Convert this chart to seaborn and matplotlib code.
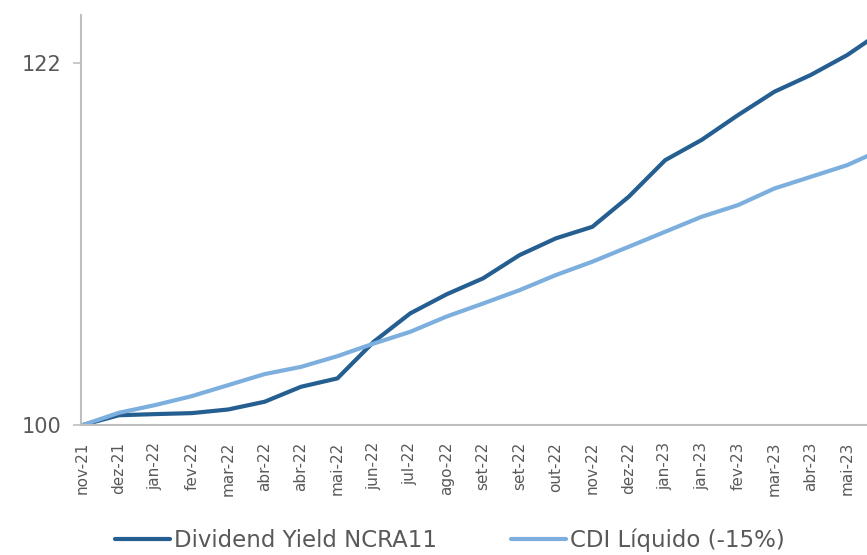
import matplotlib
matplotlib.use("Agg")
import matplotlib.pyplot as plt
import seaborn as sns
import pandas as pd
import numpy as np
from matplotlib.lines import Line2D

# ---- data ----
months = ["nov-21", "dez-21", "jan-22", "fev-22", "mar-22", "abr-22", "abr-22",
          "mai-22", "jun-22", "jul-22", "ago-22", "set-22", "set-22", "out-22",
          "nov-22", "dez-22", "jan-23", "jan-23", "fev-23", "mar-23", "abr-23",
          "mai-23", "jun-23"]
dividend_yield = [100.0, 100.6, 100.67, 100.73, 100.95, 101.42, 102.33, 102.84,
                  105.07, 106.79, 107.95, 108.92, 110.33, 111.35, 112.05, 113.88,
                  116.1, 117.33, 118.84, 120.26, 121.28, 122.49, 124.0]
cdi_liquido = [100.0, 100.75, 101.22, 101.76, 102.43, 103.1, 103.54, 104.19,
               104.96, 105.67, 106.6, 107.39, 108.2, 109.12, 109.93, 110.84,
               111.75, 112.66, 113.37, 114.38, 115.09, 115.8, 116.8]
series_names = ["Dividend Yield NCRA11", "CDI Líquido (-15%)"]
y_ticks = [100, 122]

df = pd.DataFrame({
    "idx": list(range(len(months))) * 2,
    "value": dividend_yield + cdi_liquido,
    "serie": [series_names[0]] * len(months) + [series_names[1]] * len(months),
})

sns.set_theme(style="white")
plt.rcParams["font.family"] = ["DejaVu Sans"]

fig = plt.figure(figsize=(8.67, 5.55), dpi=100)
ax = fig.add_axes([0.0934, 0.234, 0.9066, 0.739])

palette = {series_names[0]: "#255E91", series_names[1]: "#7DAFDE"}
sns.lineplot(data=df, x="idx", y="value", hue="serie", hue_order=series_names,
             palette=palette, linewidth=3, sort=False, ax=ax, legend=False,
             solid_capstyle="round", solid_joinstyle="round")

ax.set_yticks(y_ticks)
ax.set_yticklabels([str(t) for t in y_ticks])
ax.set_xticks(range(len(months)))
ax.set_xticklabels(months, rotation=90)
ax.set_xlim(-0.04, 21.54)
ax.set_ylim(100, 124.92)
ax.set_xlabel("")
ax.set_ylabel("")

for s in ["top", "right"]:
    ax.spines[s].set_visible(False)
for s in ["left", "bottom"]:
    ax.spines[s].set_color("#BFBFBF")
    ax.spines[s].set_linewidth(1.5)

ax.tick_params(axis="y", which="major", left=True, length=6, width=1.2,
               color="#BFBFBF", labelsize=15, labelcolor="#595959", pad=8)
ax.tick_params(axis="x", which="major", bottom=False, labelsize=11,
               labelcolor="#595959", pad=6)

handles = [Line2D([0], [0], color=palette[n], lw=3, solid_capstyle="round")
           for n in series_names]
leg = fig.legend(handles, series_names, loc="center", ncol=2,
                 bbox_to_anchor=(0.519, 0.026), frameon=False, fontsize=16.5,
                 handlelength=2.4, handletextpad=0.2, columnspacing=3.2)
for t in leg.get_texts():
    t.set_color("#595959")

fig.savefig("out.png", dpi=100)
